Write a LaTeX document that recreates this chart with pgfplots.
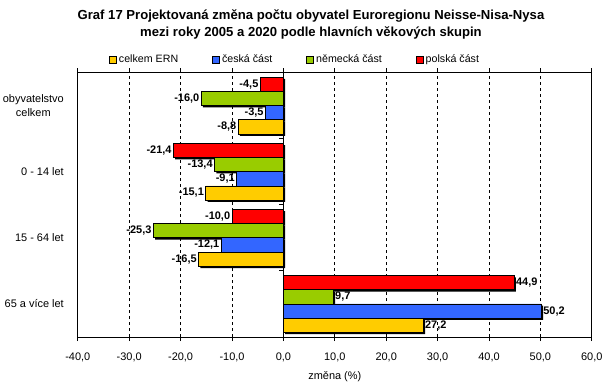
\documentclass[border=0pt]{standalone}
\usepackage{pgfplots}
\pgfplotsset{compat=1.18}
\usepackage{fontspec}
\setmainfont{Liberation Sans}
\definecolor{cRed}{HTML}{FF0000}
\definecolor{cGreen}{HTML}{99CC00}
\definecolor{cBlue}{HTML}{3366FF}
\definecolor{cYellow}{HTML}{FFCC00}
\pgfplotsset{
  sqleg/.style={legend image code/.code={\draw[##1,line width=0.8bp] (0bp,-3.5bp) rectangle (7bp,3.5bp);}},
  barlab/.style={nodes near coords={\pgfmathprintnumber[fixed,fixed zerofill,precision=1,use comma,assume math mode=true]{\pgfplotspointmeta}},
    nodes near coords style={font=\bfseries\fontsize{11}{13}\selectfont, inner sep=1.5bp, text=black},
    nodes near coords align={horizontal}},
  shadow/.style={fill=black, draw=none},
  baseax/.style={scale only axis, width=514bp, height=264.5bp,
    xmin=-40, xmax=60, ymin=-0.5, ymax=3.5, bar width=0.215},
}
\begin{document}
\begin{tikzpicture}
\useasboundingbox (-77.8bp,-48bp) rectangle (529.2bp,337bp);
% shadow layer (offset copy of the bars)
\begin{axis}[baseax, at={(1.8bp,-1.8bp)}, hide axis]
\addplot[xbar, bar shift=0pt, shadow] coordinates {(-8.8,2.6775) (-15.1,1.6775) (-16.5,0.6775) (27.2,-0.3225)};
\addplot[xbar, bar shift=0pt, shadow] coordinates {(-3.5,2.8925) (-9.1,1.8925) (-12.1,0.8925) (50.2,-0.1075)};
\addplot[xbar, bar shift=0pt, shadow] coordinates {(-16.0,3.1075) (-13.4,2.1075) (-25.3,1.1075) (9.7,0.1075)};
\addplot[xbar, bar shift=0pt, shadow] coordinates {(-4.5,3.3225) (-21.4,2.3225) (-10.0,1.3225) (44.9,0.3225)};
\end{axis}
\begin{axis}[
  baseax,
  xtick={-40,-30,...,60},
  ytick={0,1,2,3},
  yticklabels={65 a více let, 15 - 64 let, 0 - 14 let, {obyvatelstvo\\celkem}},
  yticklabel style={align=center, font=\fontsize{11}{15}\selectfont, inner sep=0pt, xshift=-9.8bp},
  ytick style={draw=none},
  xticklabel style={font=\fontsize{11}{13}\selectfont, yshift=-8bp},
  x tick label style={/pgf/number format/.cd, fixed, fixed zerofill, precision=1, use comma, assume math mode=true},
  tick align=outside, major tick length=4bp,
  x tick style={black, line width=1bp},
  axis line style={line width=1bp},
  xmajorgrids, grid style={black, line width=0.8bp, dash pattern=on 3bp off 3bp},
  xlabel={změna (\%)},
  xlabel style={font=\fontsize{11}{13}\selectfont, at={(axis description cs:0.5,0)}, anchor=center, yshift=-40bp},
  legend columns=4,
  legend style={at={(axis description cs:0.0607,1.049)}, anchor=west, draw=none, fill=none,
    inner sep=0pt, font=\fontsize{10.7}{12}\selectfont,
    /tikz/every even column/.append style={column sep=32bp}},
  legend cell align=left,
]
\addplot[xbar, bar shift=0pt, fill=cYellow, draw=black, line width=0.8bp, sqleg, barlab] coordinates {(-8.8,2.6775) (-15.1,1.6775) (-16.5,0.6775) (27.2,-0.3225)};
\addplot[xbar, bar shift=0pt, fill=cBlue, draw=black, line width=0.8bp, sqleg, barlab] coordinates {(-3.5,2.8925) (-9.1,1.8925) (-12.1,0.8925) (50.2,-0.1075)};
\addplot[xbar, bar shift=0pt, fill=cGreen, draw=black, line width=0.8bp, sqleg, barlab] coordinates {(-16.0,3.1075) (-13.4,2.1075) (-25.3,1.1075) (9.7,0.1075)};
\addplot[xbar, bar shift=0pt, fill=cRed, draw=black, line width=0.8bp, sqleg, barlab] coordinates {(-4.5,3.3225) (-21.4,2.3225) (-10.0,1.3225) (44.9,0.3225)};
\legend{celkem ERN, česká část, německá část, polská část}
\draw[line width=1bp] (axis cs:0,-0.5) -- (axis cs:0,3.5);
\draw[line width=1bp] (axis cs:0,0.5) -- ([xshift=-4bp]axis cs:0,0.5);
\draw[line width=1bp] (axis cs:0,1.5) -- ([xshift=-4bp]axis cs:0,1.5);
\draw[line width=1bp] (axis cs:0,2.5) -- ([xshift=-4bp]axis cs:0,2.5);
\end{axis}
\node[font=\bfseries\fontsize{13.15}{17}\selectfont, align=center] at (233.2bp,312.5bp)
  {Graf 17 Projektovaná změna počtu obyvatel Euroregionu Neisse-Nisa-Nysa\\mezi roky 2005 a 2020 podle hlavních věkových skupin};
\end{tikzpicture}
\end{document}
